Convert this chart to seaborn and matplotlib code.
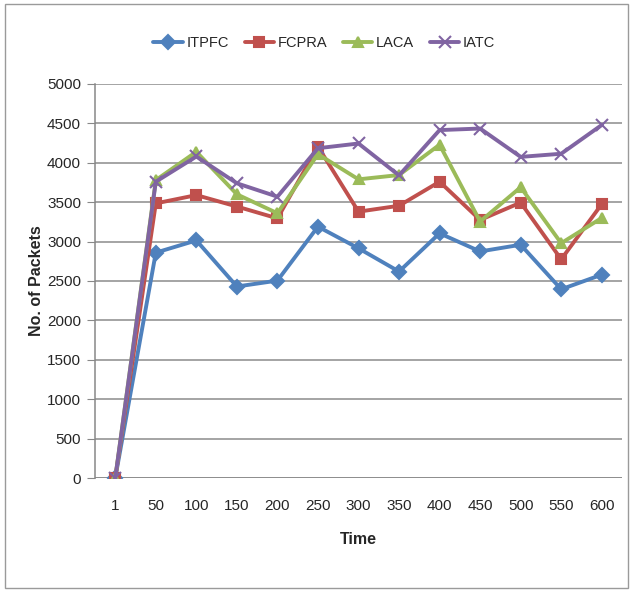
import matplotlib
matplotlib.use("Agg")
import matplotlib.pyplot as plt
import seaborn as sns
import pandas as pd
from matplotlib.patches import Rectangle
from matplotlib.ticker import FixedLocator

times = ["1", "50", "100", "150", "200", "250", "300", "350", "400", "450", "500", "550", "600"]
itpfc = [0, 2860, 3015, 2430, 2505, 3190, 2915, 2620, 3105, 2875, 2960, 2395, 2580]
fcpra = [0, 3485, 3590, 3445, 3295, 4205, 3380, 3455, 3760, 3275, 3495, 2775, 3475]
laca = [0, 3780, 4140, 3600, 3360, 4110, 3790, 3845, 4230, 3255, 3690, 2980, 3300]
iatc = [0, 3760, 4080, 3740, 3570, 4185, 4245, 3840, 4415, 4435, 4075, 4115, 4480]
series_names = ["ITPFC", "FCPRA", "LACA", "IATC"]
colors = ["#4F81BD", "#C0504D", "#9BBB59", "#8064A2"]
marker_shapes = ["D", "s", "^", "x"]

sns.set_style("white")
plt.rcParams["font.family"] = ["Liberation Sans Narrow", "Liberation Sans", "DejaVu Sans"]

fig = plt.figure(figsize=(6.32, 5.92), dpi=100)
ax = fig.add_axes([95 / 632, 114 / 592, 527 / 632, 394 / 592])

positions = list(range(len(times)))
for name, vals, c, m in zip(series_names, [itpfc, fcpra, laca, iatc], colors, marker_shapes):
    d = pd.DataFrame({"pos": positions, "value": vals})
    sns.lineplot(data=d, x="pos", y="value", color=c, marker=m, linewidth=2.8,
                 markersize=8 if m == "x" else 7, markeredgewidth=1.5, markeredgecolor=c,
                 markerfacecolor=c, label=name, ax=ax, zorder=3)

ax.set_xlim(-0.5, 12.5)
ax.set_ylim(0, 5000)
ax.set_yticks(range(0, 5001, 500))
ax.set_yticklabels([str(v) for v in range(0, 5001, 500)], fontsize=11)
ax.set_xticks(positions)
ax.set_xticklabels(times, fontsize=11)
ax.xaxis.set_minor_locator(FixedLocator([i + 0.5 for i in range(-1, 13)]))
ax.tick_params(axis="x", which="major", length=0, pad=15)
ax.tick_params(axis="x", which="minor", length=5, color="#888888", direction="out")
ax.tick_params(axis="y", which="major", length=6, color="#888888", direction="out", pad=4, left=True)

ax.yaxis.grid(True, color="#8c8c8c", linewidth=1.1)
ax.xaxis.grid(False)
ax.set_axisbelow(True)
for s in ["top", "right", "bottom"]:
    ax.spines[s].set_visible(False)
ax.spines["left"].set_color("#888888")
ax.spines["left"].set_linewidth(1.1)
ax.axhline(0, color="#888888", linewidth=1.1, zorder=1)

ax.set_xlabel("Time", fontsize=11.5, fontweight="bold", labelpad=14)
ax.set_ylabel("No. of Packets", fontsize=11.5, fontweight="bold", labelpad=2)

handles, labels = ax.get_legend_handles_labels()
if ax.legend_ is not None:
    ax.legend_.remove()
fig.legend(handles, labels, loc="center", bbox_to_anchor=(0.513, 0.927), ncol=4,
           frameon=False, fontsize=10.5, handlelength=2.0, columnspacing=1.1,
           handletextpad=0.25)

fig.patches.append(Rectangle((5 / 632, 4 / 592), 623 / 632, 584 / 592,
                             transform=fig.transFigure, fill=False,
                             edgecolor="#9a9a9a", linewidth=1.0))

fig.savefig("out.png", dpi=100)
